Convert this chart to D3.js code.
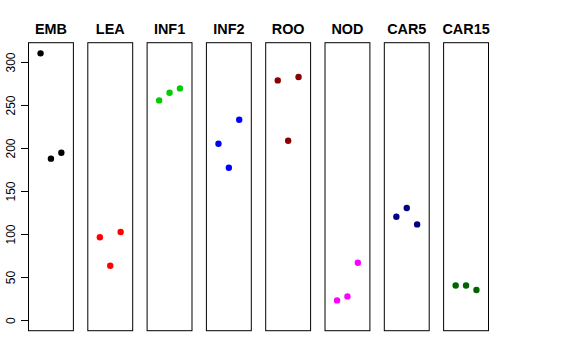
<!DOCTYPE html>
<html>
<head>
<meta charset="utf-8">
<script src="https://cdn.jsdelivr.net/npm/d3@7"></script>
<style>
  body { margin: 0; background: #fff; }
  text { font-family: "Liberation Sans", Arial, sans-serif; }
</style>
</head>
<body>
<script>
// tissues and their 3 replicate values
var tissues = ["EMB", "LEA", "INF1", "INF2", "ROO", "NOD", "CAR5", "CAR15"];
var colors  = ["#000000", "#ff0000", "#00cd00", "#0000ff", "#8b0000", "#ff00ff", "#000080", "#006400"];
var values  = [
  [310, 187.6, 194.5],
  [96.3, 63.1, 102.3],
  [255.3, 264.3, 269.3],
  [205, 177, 232.9],
  [278.6, 208.5, 282.5],
  [22.8, 27.5, 66.6],
  [120.1, 130.2, 111.2],
  [40.2, 40.2, 34.9]
];
var yTicks = [0, 50, 100, 150, 200, 250, 300];

var width = 576, height = 360;
var svg = d3.select("body").append("svg")
    .attr("width", width).attr("height", height);

// y range 0..310 with R's 4% padding
var ymax = 310, pad = ymax * 0.04;
var y = d3.scaleLinear().domain([-pad, ymax + pad]).range([330.7, 42.7]);

var panel = d3.scaleBand().domain(tissues).range([28.5, 488.5]).paddingInner(0.243);
var bw = panel.bandwidth();
var x = d3.scaleLinear().domain([-0.16, 4.16]).range([0, bw]);

// y axis on the first panel
var axis = d3.axisLeft(y).tickValues(yTicks).tickSize(7.5).tickPadding(3);
var ag = svg.append("g")
    .attr("transform", "translate(" + panel(tissues[0]) + ",0)")
    .call(axis);
ag.select(".domain").attr("d", "M0," + y(0) + "V" + y(300)).attr("stroke", "#000");
ag.selectAll(".tick line").attr("stroke", "#000");
ag.selectAll(".tick text")
    .attr("font-size", 12)
    .attr("font-family", "Liberation Sans, Arial, sans-serif")
    .attr("fill", "#000")
    .attr("text-anchor", "middle")
    .attr("x", null).attr("dy", null)
    .attr("transform", "translate(-17.5,0) rotate(-90)")
    .attr("y", 4);

var g = svg.selectAll("g.panel")
  .data(tissues)
  .enter().append("g")
    .attr("class", "panel")
    .attr("transform", function(d) { return "translate(" + panel(d) + ",0)"; });

g.append("rect")
    .attr("x", 0).attr("y", y(ymax + pad))
    .attr("width", bw).attr("height", y(-pad) - y(ymax + pad))
    .attr("fill", "none").attr("stroke", "#000").attr("stroke-width", 1);

g.append("text")
    .attr("x", bw / 2).attr("y", 34)
    .attr("text-anchor", "middle")
    .attr("font-size", 14.4).attr("font-weight", "bold")
    .text(function(d) { return d; });

g.selectAll("circle")
  .data(function(d, i) { return values[i].map(function(v, j) { return {v: v, j: j + 1, c: colors[i]}; }); })
  .enter().append("circle")
    .attr("cx", function(d) { return x(d.j); })
    .attr("cy", function(d) { return y(d.v); })
    .attr("r", 3.2)
    .attr("fill", function(d) { return d.c; });
</script>
</body>
</html>
